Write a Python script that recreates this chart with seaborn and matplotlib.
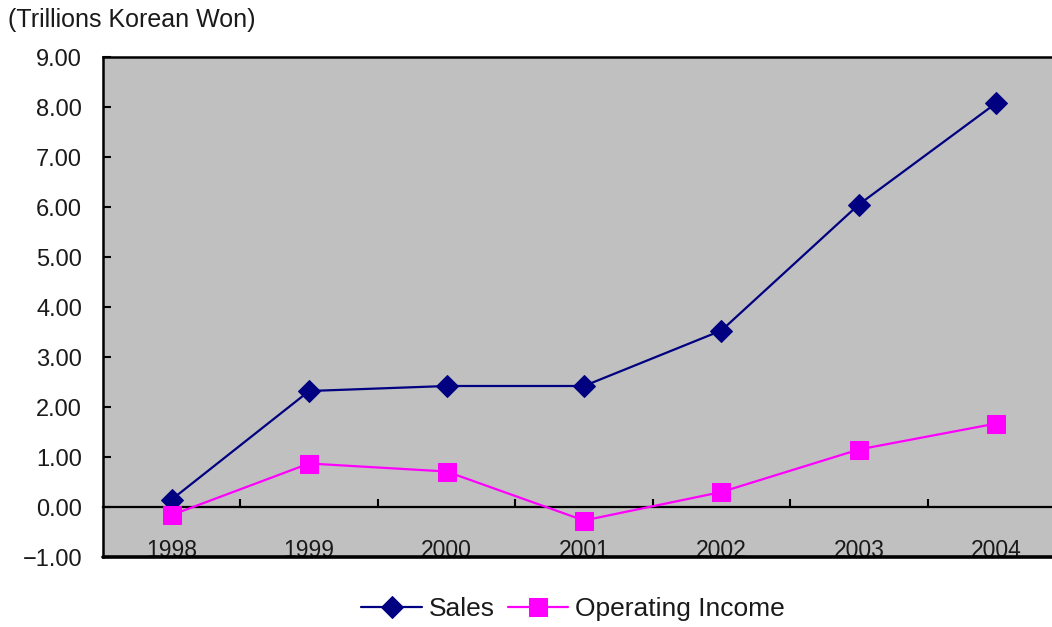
import numpy as np
import pandas as pd
import matplotlib
matplotlib.use("Agg")
import matplotlib.pyplot as plt
import seaborn as sns

years = ["1998", "1999", "2000", "2001", "2002", "2003", "2004"]
sales = [0.15, 2.32, 2.42, 2.42, 3.53, 6.05, 8.08]
operating_income = [-0.16, 0.87, 0.71, -0.27, 0.30, 1.15, 1.67]
y_ticks = [-1, 0, 1, 2, 3, 4, 5, 6, 7, 8, 9]
unit_label = "(Trillions Korean Won)"
series_names = ["Sales", "Operating Income"]

sns.set_theme(style="white")
plt.rcParams["font.family"] = ["Liberation Sans", "DejaVu Sans"]

TXT = "#1a1a1a"
NAVY = "#000080"
MAGENTA = "#FF00FF"

fig = plt.figure(figsize=(10.52, 6.27), dpi=100)
W, H = 1052, 627
left, right, top, bottom = 103, 1065, 57, 557
ax = fig.add_axes([left / W, 1 - bottom / H, (right - left) / W, (bottom - top) / H])
ax.set_facecolor("#C0C0C0")

pos = np.arange(len(years))
df = pd.DataFrame({"pos": pos, "Sales": sales, "Operating Income": operating_income})

sns.lineplot(data=df, x="pos", y="Sales", ax=ax, color=NAVY, marker="D",
             markersize=11, markeredgecolor=NAVY, linewidth=1.6, label=series_names[0],
             legend=False, zorder=3)
sns.lineplot(data=df, x="pos", y="Operating Income", ax=ax, color=MAGENTA, marker="s",
             markersize=12.5, markeredgecolor=MAGENTA, linewidth=1.6, label=series_names[1],
             legend=False, zorder=4)

ax.set_xlim(-0.5, len(years) - 0.5)
ax.set_ylim(y_ticks[0], y_ticks[-1])
ax.set_xlabel("")
ax.set_ylabel("")

# y axis
ax.set_yticks(y_ticks)
ax.set_yticklabels([f"{v:.2f}".replace("-", "\u2212") for v in y_ticks])
ax.tick_params(axis="y", direction="in", length=6, width=1.5, color="black",
               labelsize=17, labelcolor=TXT, pad=15, left=True)

# category axis on the zero line
ax.spines["bottom"].set_position(("data", 0))
ax.spines["bottom"].set_linewidth(1.6)
ax.spines["bottom"].set_color("black")
ax.set_xticks(pos[:-1] + 0.5)
ax.set_xticks(pos, minor=True)
ax.set_xticklabels([])
ax.set_xticklabels(years, minor=True)
ax.tick_params(axis="x", which="major", direction="in", length=6, width=1.5,
               color="black", bottom=True)
ax.tick_params(axis="x", which="minor", length=0, labelsize=16.5, labelcolor=TXT,
               pad=23, bottom=True)

for s in ["top", "left"]:
    ax.spines[s].set_visible(True)
    ax.spines[s].set_color("black")
    ax.spines[s].set_linewidth(1.8)
ax.spines["right"].set_visible(False)
ax.axhline(y_ticks[0], color="black", linewidth=2.6, clip_on=False, zorder=5)

fig.text(8 / W, 1 - 20 / H, unit_label, ha="left", va="center", fontsize=18, color=TXT)

handles, labels = ax.get_legend_handles_labels()
fig.legend(handles, labels, loc="center", bbox_to_anchor=(573 / W, 1 - 609 / H),
           ncol=2, frameon=False, fontsize=19, handlelength=2.3, handletextpad=0.25,
           columnspacing=0.5, labelcolor=TXT)

fig.savefig("out.png", dpi=100)
